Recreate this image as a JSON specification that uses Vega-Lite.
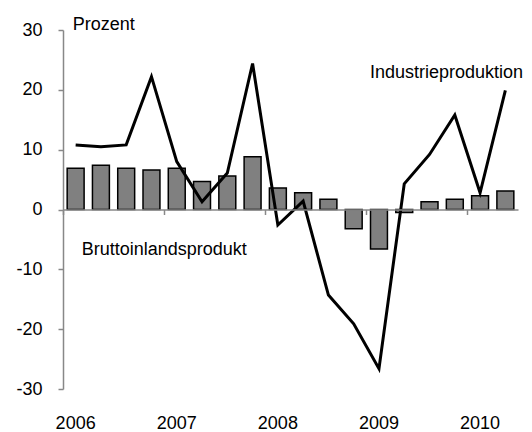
{
  "$schema": "https://vega.github.io/schema/vega-lite/v6.json",
  "width": 455,
  "height": 359,
  "autosize": {"type": "none"},
  "padding": {"left": 63, "top": 30, "right": 14, "bottom": 43},
  "background": "white",
  "config": {"view": {"stroke": null}, "font": "Liberation Sans", "axis": {"grid": false}},
  "datasets": {
    "series": [
      {"q": "2006Q1", "bip": 6.9, "ip": 10.8},
      {"q": "2006Q2", "bip": 7.4, "ip": 10.5},
      {"q": "2006Q3", "bip": 6.9, "ip": 10.8},
      {"q": "2006Q4", "bip": 6.6, "ip": 22.2},
      {"q": "2007Q1", "bip": 6.9, "ip": 8.0},
      {"q": "2007Q2", "bip": 4.7, "ip": 1.3},
      {"q": "2007Q3", "bip": 5.6, "ip": 6.1},
      {"q": "2007Q4", "bip": 8.8, "ip": 24.4},
      {"q": "2008Q1", "bip": 3.6, "ip": -2.6},
      {"q": "2008Q2", "bip": 2.8, "ip": 1.4},
      {"q": "2008Q3", "bip": 1.7, "ip": -14.3},
      {"q": "2008Q4", "bip": -3.2, "ip": -19.1},
      {"q": "2009Q1", "bip": -6.6, "ip": -26.6},
      {"q": "2009Q2", "bip": -0.5, "ip": 4.3},
      {"q": "2009Q3", "bip": 1.3, "ip": 9.2},
      {"q": "2009Q4", "bip": 1.7, "ip": 15.8},
      {"q": "2010Q1", "bip": 2.3, "ip": 2.8},
      {"q": "2010Q2", "bip": 3.1, "ip": 19.9}
    ],
    "prozent": [{"q": "2006Q1", "y": 30, "label": "Prozent"}],
    "bip": [{"q": "2006Q1", "y": -7.6, "label": "Bruttoinlandsprodukt"}],
    "ip": [{"q": "2009Q1", "y": 22, "label": "Industrieproduktion"}]
  },
  "data": {"name": "series"},
  "layer": [
    {
      "mark": {"type": "bar", "fill": "#808080", "stroke": "black", "strokeWidth": 1.5},
      "encoding": {
        "x": {
          "field": "q", "type": "ordinal", "sort": null,
          "scale": {
            "domain": ["2006Q1","2006Q2","2006Q3","2006Q4","2007Q1","2007Q2","2007Q3","2007Q4","2008Q1","2008Q2","2008Q3","2008Q4","2009Q1","2009Q2","2009Q3","2009Q4","2010Q1","2010Q2"],
            "paddingInner": 0.33, "paddingOuter": 0.165
          },
          "axis": {
            "orient": "bottom", "title": null,
            "values": ["2006Q1","2007Q1","2008Q1","2009Q1","2010Q1"],
            "labelExpr": "substring(datum.value, 0, 4)",
            "domain": false, "ticks": false, "tickSize": 0,
            "labelPadding": 25, "labelFontSize": 18, "labelColor": "black", "labelAngle": 0
          }
        },
        "y": {
          "field": "bip", "type": "quantitative",
          "scale": {"domain": [-30, 30], "nice": false, "zero": false},
          "axis": {
            "title": null, "values": [-30, -20, -10, 0, 10, 20, 30],
            "labelExpr": "toString(datum.value)",
            "domainColor": "#888888", "domainWidth": 1.5,
            "tickColor": "#888888", "tickSize": 5, "tickWidth": 1.5,
            "labelPadding": 16, "labelFontSize": 18, "labelColor": "black"
          }
        }
      }
    },
    {
      "mark": {"type": "line", "color": "black", "strokeWidth": 3},
      "encoding": {
        "x": {
          "field": "q", "type": "ordinal", "sort": null,
          "axis": {
            "orient": "bottom", "title": null, "offset": -179.5, "zindex": 1,
            "values": ["2006Q1","2007Q1","2008Q1","2009Q1","2010Q1"],
            "labels": false,
            "domainColor": "#888888", "domainWidth": 1.5,
            "tickColor": "#888888", "tickSize": 5, "tickWidth": 1.5, "tickOffset": -12.64
          }
        },
        "y": {"field": "ip", "type": "quantitative"}
      }
    },
    {
      "data": {"name": "prozent"},
      "mark": {"type": "text", "align": "left", "baseline": "alphabetic", "fontSize": 18, "color": "black", "dx": -3},
      "encoding": {
        "x": {"field": "q", "type": "ordinal", "sort": null, "axis": null},
        "y": {"field": "y", "type": "quantitative"},
        "text": {"field": "label"}
      }
    },
    {
      "data": {"name": "bip"},
      "mark": {"type": "text", "align": "left", "baseline": "alphabetic", "fontSize": 18, "color": "black", "dx": 6},
      "encoding": {
        "x": {"field": "q", "type": "ordinal", "sort": null, "axis": null},
        "y": {"field": "y", "type": "quantitative"},
        "text": {"field": "label"}
      }
    },
    {
      "data": {"name": "ip"},
      "mark": {"type": "text", "align": "left", "baseline": "alphabetic", "fontSize": 18, "color": "black", "dx": -9},
      "encoding": {
        "x": {"field": "q", "type": "ordinal", "sort": null, "axis": null},
        "y": {"field": "y", "type": "quantitative"},
        "text": {"field": "label"}
      }
    }
  ],
  "resolve": {"axis": {"x": "independent"}}
}
